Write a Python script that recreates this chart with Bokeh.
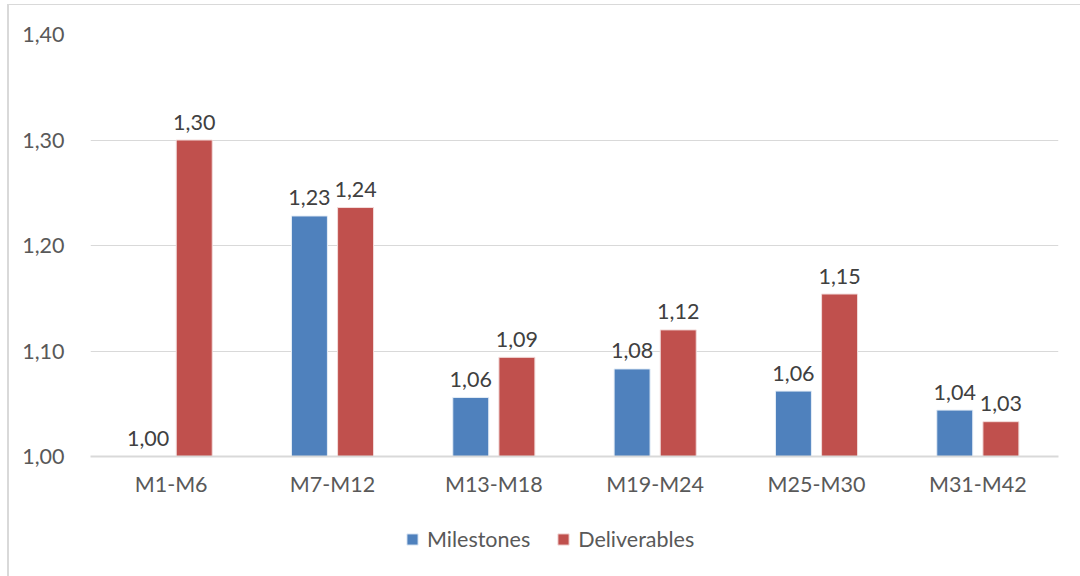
from bokeh.plotting import figure
from bokeh.models import ColumnDataSource, FixedTicker, Legend, LegendItem, Range1d, FactorRange
from bokeh.layouts import column
from bokeh.transform import dodge
from bokeh.core.properties import value
from bokeh.embed import file_html
from bokeh.resources import INLINE

categories = ["M1-M6", "M7-M12", "M13-M18", "M19-M24", "M25-M30", "M31-M42"]
milestones = [1.000, 1.228, 1.056, 1.083, 1.062, 1.044]
deliverables = [1.300, 1.236, 1.094, 1.120, 1.154, 1.033]
y_ticks = [1.00, 1.10, 1.20, 1.30, 1.40]
series_names = ["Milestones", "Deliverables"]

BLUE = "#4F81BD"
RED = "#C0504D"
TEXT = "#595959"
FONT = "Lato"
FS = "21.5px"

def fmt(v):
    return "{:.2f}".format(v).replace(".", ",")

src = ColumnDataSource(dict(
    cat=categories,
    mil=milestones,
    dev=deliverables,
    mil_lbl=[fmt(v) for v in milestones],
    dev_lbl=[fmt(v) for v in deliverables],
))

p = figure(
    x_range=FactorRange(*categories, range_padding=0.0),
    y_range=Range1d(1.0, 1.4),
    width=1071, height=495,
    output_backend="svg", toolbar_location=None,
    min_border_left=81, min_border_right=22, min_border_top=29, min_border_bottom=44,
)
p.outline_line_color = None
p.background_fill_color = "white"
p.border_fill_color = "white"

w = 0.223
off = 0.143
bar_styles = [(BLUE, "#e6eef7"), (RED, "#f2dcdb")]
r1 = p.vbar(x=dodge("cat", -off, range=p.x_range), top="mil", bottom=1.0, width=w, source=src,
            fill_color=bar_styles[0][0], line_color=bar_styles[0][1], line_width=1)
r2 = p.vbar(x=dodge("cat", off, range=p.x_range), top="dev", bottom=1.0, width=w, source=src,
            fill_color=bar_styles[1][0], line_color=bar_styles[1][1], line_width=1)

for col, lbl, dx in (("mil", "mil_lbl", -off), ("dev", "dev_lbl", off)):
    p.text(x=dodge("cat", dx, range=p.x_range), y=col, text=lbl, source=src,
           text_align="center", text_baseline="alphabetic", y_offset=-18,
           text_font=value(FONT), text_font_size=FS, text_color="#404040")

p.yaxis.ticker = FixedTicker(ticks=y_ticks)
p.yaxis.major_label_overrides = {t: fmt(t) for t in y_ticks}
p.yaxis.axis_line_color = None
p.yaxis.major_tick_line_color = None
p.yaxis.minor_tick_line_color = None
p.yaxis.major_label_text_font = FONT
p.yaxis.major_label_text_font_size = FS
p.yaxis.major_label_text_color = TEXT
p.yaxis.major_label_standoff = 20

p.xaxis.axis_line_color = "#d9d9d9"
p.xaxis.axis_line_width = 2
p.xaxis.major_tick_line_color = None
p.xaxis.minor_tick_line_color = None
p.xaxis.major_label_text_font = FONT
p.xaxis.major_label_text_font_size = FS
p.xaxis.major_label_text_color = TEXT
p.xaxis.major_label_standoff = 8

p.xgrid.grid_line_color = None
p.ygrid.grid_line_color = "#d9d9d9"
p.ygrid.grid_line_width = 1

# legend panel (legend swatches come from off-range dummy renderers)
p2 = figure(width=1071, height=76, output_backend="svg", toolbar_location=None,
            x_range=Range1d(0, 1), y_range=Range1d(0, 1),
            x_axis_location=None, y_axis_location=None, min_border=0)
p2.outline_line_color = None
p2.xgrid.grid_line_color = None
p2.ygrid.grid_line_color = None
dummy = ColumnDataSource(dict(x=[-10], top=[-10]))
l1 = p2.vbar(x="x", top="top", bottom=-11, width=0.1, source=dummy,
             fill_color=bar_styles[0][0], line_color=bar_styles[0][1])
l2 = p2.vbar(x="x", top="top", bottom=-11, width=0.1, source=dummy,
             fill_color=bar_styles[1][0], line_color=bar_styles[1][1])
legend = Legend(
    items=[LegendItem(label=series_names[0], renderers=[l1]),
           LegendItem(label=series_names[1], renderers=[l2])],
    orientation="horizontal", location=(315, 24),
    glyph_width=14, glyph_height=14, spacing=26, label_standoff=8,
    label_text_font=FONT, label_text_font_size=FS, label_text_color=TEXT,
    border_line_color=None, background_fill_alpha=0, padding=0, margin=0,
)
p2.add_layout(legend)

layout = column(p, p2, spacing=0)
layout.margin = (4, 0, 0, 7)
layout.styles = {"border-top": "1px solid #d9d9d9", "border-left": "2px solid #d9d9d9"}

open("out.html", "w").write(file_html(layout, INLINE))
